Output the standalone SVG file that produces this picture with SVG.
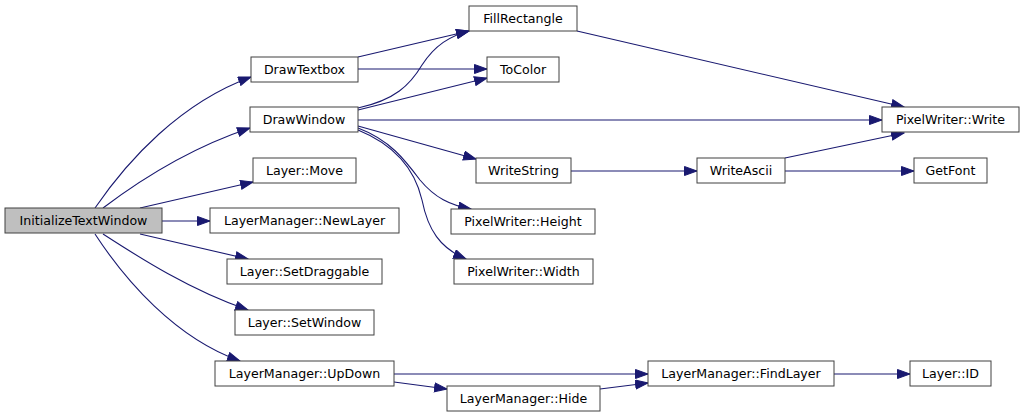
<svg xmlns="http://www.w3.org/2000/svg" width="1024" height="417" viewBox="0 0 1024 417">
<style>
.n rect{fill:#ffffff;stroke:#404040;stroke-width:1}
.n.root rect{fill:#bfbfbf}
.n text{font-family:"DejaVu Sans",sans-serif;font-size:12.6px;fill:#000;text-anchor:middle}
.e path{fill:none;stroke:#191970;stroke-width:1.1;marker-end:url(#ah)}
</style>
<defs>
<marker id="ah" markerUnits="userSpaceOnUse" markerWidth="14" markerHeight="11" refX="13" refY="5" orient="auto">
<path d="M0.5,0.5 L13,5 L0.5,9.5 z" fill="#191970" stroke="#191970" stroke-width="1"/>
</marker>
</defs>
<rect width="1024" height="417" fill="#ffffff"/>
<g id="edges" class="e">
<path d="M95,208 C128,160 180,103 251,77"/>
<path d="M103,208 C140,180 190,148 250,128"/>
<path d="M140,208 L253,182"/>
<path d="M162,221 L210,221"/>
<path d="M140,234 L248,259"/>
<path d="M103,234 C140,258 190,290 248,310"/>
<path d="M95,234 C125,280 175,338 240,361"/>
<path d="M358,57 L469,31"/>
<path d="M358,69 L487,69"/>
<path d="M358,108 C395,100 410,85 422,65 C435,45 450,36 469,31"/>
<path d="M358,110 L487,78"/>
<path d="M358,120 L882,120"/>
<path d="M358,126 L476,159"/>
<path d="M358,128 C390,140 405,160 420,180 C435,198 450,205 471,209"/>
<path d="M358,130 C395,145 415,170 422,200 C428,230 440,248 466,259"/>
<path d="M577,31 L904,107"/>
<path d="M571,171 L697,171"/>
<path d="M785,158 L904,133"/>
<path d="M785,171 L914,171"/>
<path d="M394,374 L648,374"/>
<path d="M394,382 L447,389"/>
<path d="M600,389 L648,383"/>
<path d="M834,374 L910,374"/>
</g>
<g id="InitializeTextWindow" class="n root"><rect x="5" y="208" width="157" height="25"/><text x="83.5" y="225">InitializeTextWindow</text></g>
<g id="DrawTextbox" class="n"><rect x="251" y="57" width="107" height="25"/><text x="304.5" y="74">DrawTextbox</text></g>
<g id="DrawWindow" class="n"><rect x="250" y="107" width="108" height="25"/><text x="304" y="124">DrawWindow</text></g>
<g id="LayerMove" class="n"><rect x="253" y="158" width="103" height="25"/><text x="304.5" y="175">Layer::Move</text></g>
<g id="NewLayer" class="n"><rect x="210" y="208" width="189" height="25"/><text x="304.5" y="225">LayerManager::NewLayer</text></g>
<g id="SetDraggable" class="n"><rect x="227" y="259" width="155" height="25"/><text x="304.5" y="276">Layer::SetDraggable</text></g>
<g id="SetWindow" class="n"><rect x="235" y="310" width="139" height="25"/><text x="304.5" y="327">Layer::SetWindow</text></g>
<g id="UpDown" class="n"><rect x="215" y="361" width="179" height="25"/><text x="304.5" y="378">LayerManager::UpDown</text></g>
<g id="FillRectangle" class="n"><rect x="469" y="6" width="108" height="25"/><text x="523" y="23">FillRectangle</text></g>
<g id="ToColor" class="n"><rect x="487" y="57" width="72" height="25"/><text x="523" y="74">ToColor</text></g>
<g id="WriteString" class="n"><rect x="476" y="158" width="95" height="25"/><text x="523.5" y="175">WriteString</text></g>
<g id="PWHeight" class="n"><rect x="451" y="209" width="144" height="25"/><text x="523" y="226">PixelWriter::Height</text></g>
<g id="PWWidth" class="n"><rect x="454" y="259" width="139" height="25"/><text x="523.5" y="276">PixelWriter::Width</text></g>
<g id="PWWrite" class="n"><rect x="882" y="107" width="137" height="25"/><text x="950.5" y="124">PixelWriter::Write</text></g>
<g id="WriteAscii" class="n"><rect x="697" y="158" width="88" height="25"/><text x="741" y="175">WriteAscii</text></g>
<g id="GetFont" class="n"><rect x="914" y="158" width="73" height="25"/><text x="950.5" y="175">GetFont</text></g>
<g id="FindLayer" class="n"><rect x="648" y="361" width="186" height="25"/><text x="741" y="378">LayerManager::FindLayer</text></g>
<g id="LayerID" class="n"><rect x="910" y="361" width="81" height="25"/><text x="950.5" y="378">Layer::ID</text></g>
<g id="Hide" class="n"><rect x="447" y="386" width="153" height="25"/><text x="523.5" y="403">LayerManager::Hide</text></g>
</svg>
